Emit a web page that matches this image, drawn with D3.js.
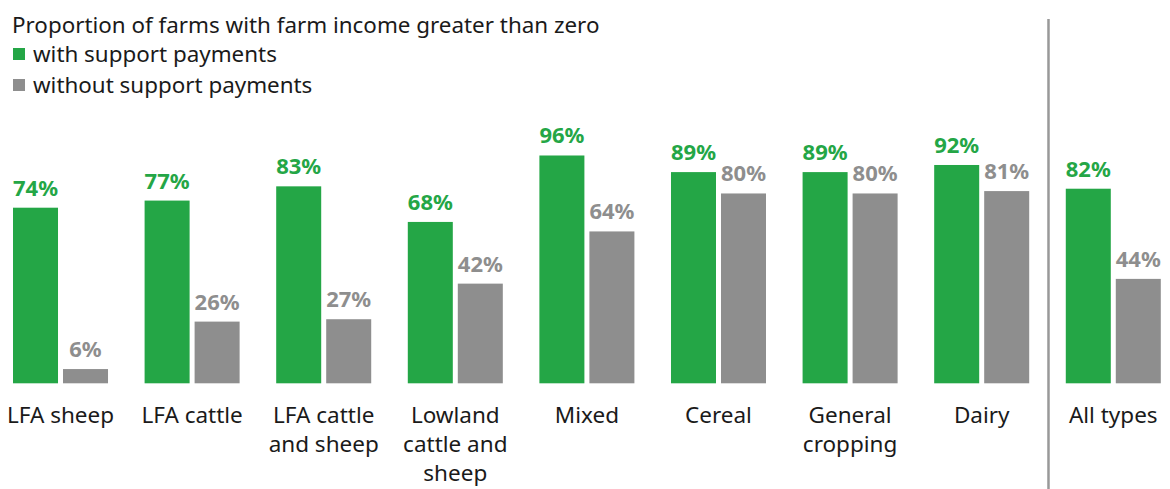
<!DOCTYPE html>
<html>
<head>
<meta charset="utf-8">
<script src="https://cdn.jsdelivr.net/npm/d3@7"></script>
<style>
  body { margin: 0; background: #fff; }
  svg { display: block; font-family: "Noto Sans", sans-serif; }
</style>
</head>
<body>
<script>
// categories and values
let categories = ['LFA sheep', 'LFA cattle', 'LFA cattle and sheep', 'Lowland cattle and sheep', 'Mixed', 'Cereal', 'General cropping', 'Dairy', 'All types'];
let categoryLines = [['LFA sheep'], ['LFA cattle'], ['LFA cattle', 'and sheep'], ['Lowland', 'cattle and', 'sheep'], ['Mixed'], ['Cereal'], ['General', 'cropping'], ['Dairy'], ['All types']];
let withSupport = [74, 77, 83, 68, 96, 89, 89, 92, 82];
let withoutSupport = [6, 26, 27, 42, 64, 80, 80, 81, 44];
let seriesKeys = ['with', 'without'];
let seriesLabels = ['with support payments', 'without support payments'];
let title = 'Proportion of farms with farm income greater than zero';

let colors = { with: '#24a646', without: '#8e8e8e' };

let totalWidth = 1170;
let totalHeight = 489;
let baseline = 383.3;

let svg = d3.select('body').append('svg')
    .attr('width', totalWidth)
    .attr('height', totalHeight);

//group scale and bar scale
let x0 = d3.scaleBand()
    .domain(categories)
    .range([13, 1160.8])
    .paddingInner(0.278)
    .paddingOuter(0);

let x1 = d3.scaleBand()
    .domain(seriesKeys)
    .range([0, x0.bandwidth()])
    .paddingInner(0.1);

let y = d3.scaleLinear()
    .domain([0, 100])
    .range([baseline, 146]);

let rows = categories.map(function(c, i){
    return { cat: c, lines: categoryLines[i], values: [
        { key: 'with', value: withSupport[i] },
        { key: 'without', value: withoutSupport[i] }
    ]};
});

let groups = svg.append('g').selectAll('g')
    .data(rows)
    .enter()
    .append('g')
    .attr('transform', function(d){ return `translate(${x0(d.cat)},0)` });

groups.selectAll('rect')
    .data(function(d){ return d.values })
    .enter()
    .append('rect')
    .attr('x', function(d){ return x1(d.key) })
    .attr('width', x1.bandwidth())
    .attr('y', function(d){ return y(d.value) })
    .attr('height', function(d){ return baseline - y(d.value) })
    .style('fill', function(d){ return colors[d.key] });

groups.selectAll('text.value')
    .data(function(d){ return d.values })
    .enter()
    .append('text')
    .attr('class', 'value')
    .attr('text-anchor', 'middle')
    .attr('x', function(d){ return x1(d.key) + x1.bandwidth() / 2 })
    .attr('y', function(d){ return y(d.value) - 12 })
    .style('font-size', '22px')
    .style('font-weight', 'bold')
    .style('fill', function(d){ return colors[d.key] })
    .text(function(d){ return d.value + '%' });

//category labels, possibly several lines
groups.append('text')
    .attr('class', 'cat')
    .attr('text-anchor', 'middle')
    .attr('x', x0.bandwidth() / 2)
    .attr('y', 422.5)
    .style('font-size', '22.5px')
    .style('fill', '#1a1a1a')
    .selectAll('tspan')
    .data(function(d){ return d.lines })
    .enter()
    .append('tspan')
    .attr('x', x0.bandwidth() / 2)
    .attr('dy', function(d, i){ return i === 0 ? 0 : 29 })
    .text(function(d){ return d });

//divider before "All types"
let divX = (x0('Dairy') + x0.bandwidth() + x0('All types')) / 2 + 1;
svg.append('line')
    .attr('x1', divX).attr('x2', divX)
    .attr('y1', 19).attr('y2', totalHeight)
    .style('stroke', '#999')
    .style('stroke-width', 2.5);

//title and legend
svg.append('text')
    .attr('x', 12)
    .attr('y', 32.5)
    .style('font-size', '22.4px')
    .style('fill', '#1a1a1a')
    .text(title);

let legend = svg.append('g').selectAll('g')
    .data(seriesKeys)
    .enter()
    .append('g')
    .attr('transform', function(d, i){ return `translate(13,${48 + i * 31})` });

legend.append('rect')
    .attr('width', 12)
    .attr('height', 12)
    .style('fill', function(d){ return colors[d] });

legend.append('text')
    .attr('x', 20)
    .attr('y', 13.5)
    .style('font-size', '22.4px')
    .style('fill', '#1a1a1a')
    .text(function(d, i){ return seriesLabels[i] });
</script>
</body>
</html>
